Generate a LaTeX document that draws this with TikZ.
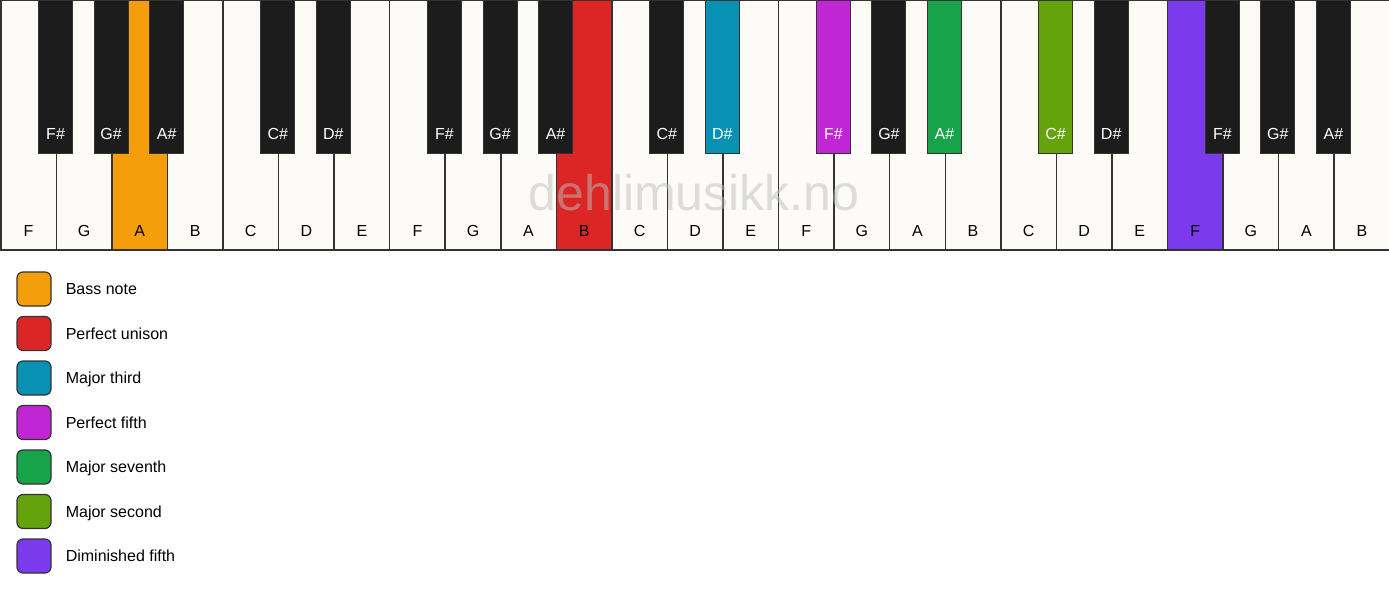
\documentclass[tikz,border=0pt]{standalone}
\usepackage{fontspec}
\setmainfont{Liberation Sans}
\usetikzlibrary{positioning}

\definecolor{keywhite}{HTML}{FCFBF8}
\definecolor{keyblack}{HTML}{1C1C1C}
\definecolor{keyline}{HTML}{333333}
\definecolor{bass}{HTML}{F59E0B}
\definecolor{unison}{HTML}{DC2626}
\definecolor{third}{HTML}{0891B2}
\definecolor{fifth}{HTML}{C026D3}
\definecolor{seventh}{HTML}{16A34A}
\definecolor{second}{HTML}{65A30D}
\definecolor{dimfifth}{HTML}{7C3AED}
\definecolor{markgray}{HTML}{BEBEBE}

\begin{document}
\begin{tikzpicture}[x=1pt,y=-1pt,
    whitekey/.style={draw=keyline,line width=1.5pt,minimum width=55.56pt,
                     minimum height=249pt,inner sep=0pt,anchor=north west},
    blackkey/.style={draw=keyline,line width=1pt,minimum width=34pt,
                     minimum height=153pt,inner sep=0pt,anchor=north},
    keylabel/.style={font=\fontsize{16}{19}\selectfont,inner sep=0pt},
    legendbox/.style={draw=keyline,line width=1.2pt,rounded corners=6pt,
                      minimum size=34pt,inner sep=0pt},
    legendtext/.style={font=\fontsize{16}{19}\selectfont,inner sep=0pt,
                       text height=11.5pt,text depth=0pt},
    watermark/.style={font=\fontsize{50}{60}\selectfont,text=markgray,
                      text opacity=0.5}]

  \useasboundingbox (0,0) rectangle (1389,594);
  \def\kw{55.56}

  % white keys
  \foreach \n/\c [count=\i from 0] in {F/keywhite,G/keywhite,A/bass,B/keywhite,
      C/keywhite,D/keywhite,E/keywhite,F/keywhite,G/keywhite,A/keywhite,B/unison,
      C/keywhite,D/keywhite,E/keywhite,F/keywhite,G/keywhite,A/keywhite,B/keywhite,
      C/keywhite,D/keywhite,E/keywhite,F/dimfifth,G/keywhite,A/keywhite,B/keywhite} {
    \node[whitekey,fill=\c] (w\i) at (\i*\kw,0) {};
    \node[keylabel] (wl\i) at ([yshift=19.5pt]w\i.south) {\n};
  }

  % black keys, placed on the boundary after white key k
  \foreach \k/\n/\c in {0/F\#/keyblack,1/G\#/keyblack,2/A\#/keyblack,
      4/C\#/keyblack,5/D\#/keyblack,7/F\#/keyblack,8/G\#/keyblack,9/A\#/keyblack,
      11/C\#/keyblack,12/D\#/third,14/F\#/fifth,15/G\#/keyblack,16/A\#/seventh,
      18/C\#/second,19/D\#/keyblack,21/F\#/keyblack,22/G\#/keyblack,23/A\#/keyblack} {
    \node[blackkey,fill=\c] (b\k) at ({(\k+1)*\kw},0) {};
    \node[keylabel,text=white] (bl\k) at ([yshift=20.5pt]b\k.south) {\n};
  }

  % legend
  \foreach \c/\t [count=\j from 0] in {bass/Bass note,unison/Perfect unison,
      third/Major third,fifth/Perfect fifth,seventh/Major seventh,
      second/Major second,dimfifth/Diminished fifth} {
    \node[legendbox,fill=\c] (box\j) at (34,289+\j*44.5) {};
    \node[legendtext,right=14pt of box\j] (txt\j) {\t};
  }

  \node[watermark] (mark) at (694,193) {dehlimusikk.no};

\end{tikzpicture}
\end{document}
